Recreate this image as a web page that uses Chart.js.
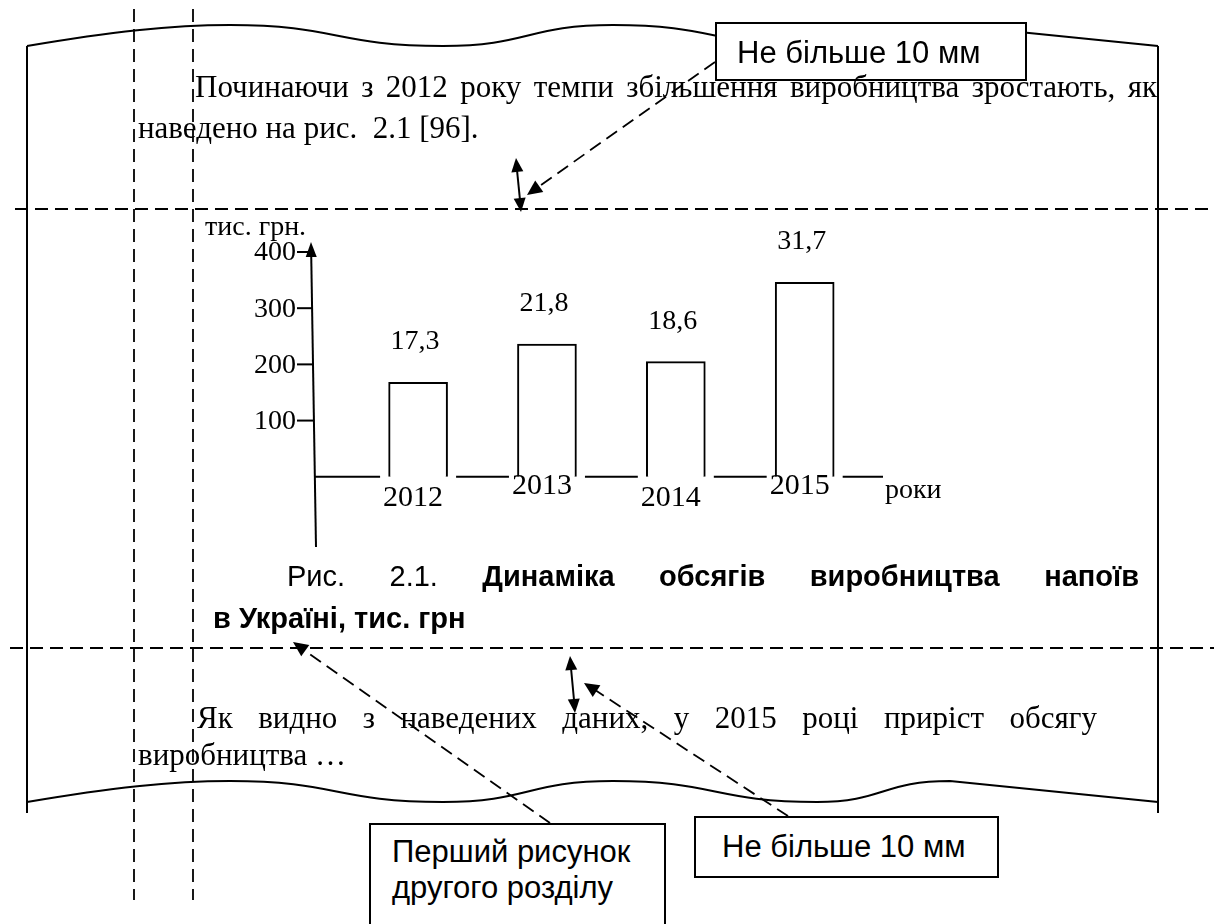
<!DOCTYPE html>
<html lang="uk">
<head>
<meta charset="utf-8">
<title>Динаміка обсягів виробництва напоїв</title>
<script src="https://cdn.jsdelivr.net/npm/chart.js@4.4.1/dist/chart.umd.min.js"></script>
<style>
  body { margin: 0; background: #fff; }
  #page { position: relative; width: 1214px; height: 924px; overflow: hidden; background: #fff; }
  #page canvas { position: absolute; left: 0; top: 0; }
  .txt { position: absolute; white-space: pre; color: #000; z-index: 2; }
  .serif { font-family: 'Liberation Serif', 'Times New Roman', serif; font-size: 31px; line-height: 31px; }
  .sans { font-family: 'Liberation Sans', Arial, sans-serif; font-size: 29px; line-height: 29px; }
  .label { font-family: 'Liberation Sans', Arial, sans-serif; font-size: 31px; line-height: 31px; }
  .box { position: absolute; border: 2px solid #000; background: #fff; box-sizing: border-box; z-index: 1; }
</style>
</head>
<body>
<div id="page">
  <canvas id="chart" width="1214" height="924"></canvas>

  <div class="txt serif" data-w="962" style="left:195px; top:71px;">Починаючи з 2012 року темпи збільшення виробництва зростають, як</div>
  <div class="txt serif" style="left:138px; top:112px;">наведено на рис.  2.1 [96].</div>

  <div class="txt sans" data-w="852" style="left:287px; top:562px;">Рис. 2.1. <b>Динаміка обсягів виробництва напоїв</b></div>
  <div class="txt sans" style="left:213px; top:604px;"><b>в Україні, тис. грн</b></div>

  <div class="txt serif" data-w="900" style="left:197px; top:702px;">Як видно з наведених даних, у 2015 році приріст обсягу</div>
  <div class="txt serif" style="left:138px; top:739px;">виробництва …</div>

  <div class="box" style="left:715px; top:22px; width:312px; height:59px;"></div>
  <div class="txt label" style="left:737px; top:37px;">Не більше 10 мм</div>

  <div class="box" style="left:694px; top:816px; width:305px; height:62px;"></div>
  <div class="txt label" style="left:722px; top:831px;">Не більше 10 мм</div>

  <div class="box" style="left:369px; top:823px; width:297px; height:120px;"></div>
  <div class="txt label" style="left:392px; top:836px;">Перший рисунок</div>
  <div class="txt label" style="left:392px; top:872px;">другого розділу</div>
</div>

<script>
// data
const years = [2012, 2013, 2014, 2015];
const values = [168, 236, 205, 346];
const valueLabels = ['17,3', '21,8', '18,6', '31,7'];
const yTicks = [100, 200, 300, 400];
const yUnit = 'тис. грн.';
const xUnit = 'роки';

const serif = "'Liberation Serif', 'Times New Roman', serif";

function line(ctx, x1, y1, x2, y2) {
    ctx.beginPath();
    ctx.moveTo(x1, y1);
    ctx.lineTo(x2, y2);
    ctx.stroke();
}

function arrowHead(ctx, fromX, fromY, tipX, tipY, len, half) {
    const a = Math.atan2(tipY - fromY, tipX - fromX);
    ctx.beginPath();
    ctx.moveTo(tipX, tipY);
    ctx.lineTo(tipX - len * Math.cos(a) + half * Math.sin(a), tipY - len * Math.sin(a) - half * Math.cos(a));
    ctx.lineTo(tipX - len * Math.cos(a) - half * Math.sin(a), tipY - len * Math.sin(a) + half * Math.cos(a));
    ctx.closePath();
    ctx.fill();
}

// wavy torn edge of the page, dy shifts it up for the top edge
function pageEdge(ctx, dy) {
    ctx.beginPath();
    ctx.moveTo(27, 802 + dy);
    ctx.bezierCurveTo(110, 788 + dy, 170, 781 + dy, 230, 781 + dy);
    ctx.bezierCurveTo(337, 781 + dy, 336, 802 + dy, 443, 802 + dy);
    ctx.bezierCurveTo(528, 802 + dy, 528, 781 + dy, 613, 781 + dy);
    ctx.bezierCurveTo(715, 781 + dy, 715, 802 + dy, 817, 802 + dy);
    ctx.bezierCurveTo(883, 802 + dy, 883, 781 + dy, 950, 781 + dy);
    ctx.lineTo(1158, 802 + dy);
    ctx.stroke();
}

const pagePlugin = {
    id: 'pageLayout',
    beforeDraw(chart) {
        const ctx = chart.ctx;
        ctx.save();
        ctx.fillStyle = '#fff';
        ctx.fillRect(0, 0, chart.width, chart.height);
        ctx.strokeStyle = '#000';
        ctx.fillStyle = '#000';
        ctx.lineWidth = 2;

        // page sheet
        pageEdge(ctx, 0);
        pageEdge(ctx, -756);
        line(ctx, 27, 46, 27, 813);
        line(ctx, 1158, 46, 1158, 813);

        // margin guides
        ctx.lineWidth = 1.8;
        ctx.setLineDash([13, 7]);
        line(ctx, 134, 9, 134, 900);
        line(ctx, 193, 9, 193, 900);
        line(ctx, 15, 209, 1214, 209);
        line(ctx, 10, 648, 1214, 648);

        // dashed pointers from the note boxes
        line(ctx, 715, 62, 534, 190);
        line(ctx, 788, 816, 592, 688);
        line(ctx, 550, 823, 301, 648);
        ctx.setLineDash([]);
        arrowHead(ctx, 715, 62, 527, 195, 15, 7);
        arrowHead(ctx, 788, 816, 584, 683, 15, 7);
        arrowHead(ctx, 550, 823, 293, 642, 15, 7);

        // spacing arrows (max 10 mm)
        ctx.lineWidth = 2;
        line(ctx, 517, 170, 520, 200);
        arrowHead(ctx, 520, 200, 516, 158, 14, 6);
        arrowHead(ctx, 517, 170, 521, 212, 14, 6);
        line(ctx, 571, 668, 574, 700);
        arrowHead(ctx, 574, 700, 570, 656, 14, 6);
        arrowHead(ctx, 571, 668, 575, 713, 14, 6);

        // x axis with gaps under the year labels
        const x = chart.scales.x;
        const y = chart.scales.y;
        const y0 = y.getPixelForValue(0);
        let start = chart.chartArea.left;
        years.forEach(yr => {
            const cx = x.getPixelForValue(yr);
            line(ctx, start, y0, cx - 38, y0);
            start = cx + 38;
        });
        line(ctx, start, y0, chart.chartArea.right + 1, y0);
        ctx.restore();
    },
    afterDatasetsDraw(chart) {
        const ctx = chart.ctx;
        const area = chart.chartArea;
        const x = chart.scales.x;
        const y = chart.scales.y;
        const y0 = y.getPixelForValue(0);
        ctx.save();
        ctx.strokeStyle = '#000';
        ctx.fillStyle = '#000';
        ctx.lineWidth = 2;

        // y axis, slightly leaning, with an arrow on top
        const topX = area.left - 4, topY = area.top - 10;
        const botX = area.left + 1, botY = area.bottom;
        const axisX = py => botX + (topX - botX) * (botY - py) / (botY - topY);
        line(ctx, botX, botY, axisX(area.top + 4), area.top + 4);
        arrowHead(ctx, botX, botY, topX, topY, 15, 5.5);

        ctx.font = '28px ' + serif;
        ctx.textAlign = 'right';
        ctx.textBaseline = 'middle';
        yTicks.forEach(v => {
            const py = y.getPixelForValue(v);
            line(ctx, area.left - 18, py, axisX(py), py);
            ctx.fillText(String(v), area.left - 19, py + 1);
        });

        ctx.textAlign = 'left';
        ctx.textBaseline = 'alphabetic';
        ctx.fillText(yUnit, area.left - 110, area.top - 17);
        ctx.fillText(xUnit, area.right + 3, y0 + 21);

        ctx.textAlign = 'center';
        years.forEach((yr, i) => {
            const cx = x.getPixelForValue(yr);
            ctx.font = '28px ' + serif;
            ctx.fillText(valueLabels[i], cx - 3, y.getPixelForValue(values[i]) - 33);
            ctx.font = '30px ' + serif;
            ctx.fillText(String(yr), cx - 5, y0 + (i % 2 === 0 ? 29 : 17));
        });
        ctx.restore();
    }
};

// spread single justified lines to their measured width
function justifyLines() {
    document.querySelectorAll('[data-w]').forEach(el => {
        const target = Number(el.dataset.w);
        const natural = el.getBoundingClientRect().width;
        const gaps = (el.textContent.match(/ /g) || []).length;
        if (gaps > 0 && target > natural) {
            el.style.wordSpacing = ((target - natural) / gaps) + 'px';
        }
    });
}

document.addEventListener('DOMContentLoaded', () => {
    justifyLines();
    const ctx = document.getElementById('chart').getContext('2d');
    new Chart(ctx, {
        type: 'bar',
        data: {
            datasets: [{
                data: years.map((yr, i) => ({ x: yr, y: values[i] })),
                backgroundColor: '#fff',
                borderColor: '#000',
                borderWidth: 2,
                borderSkipped: 'bottom',
                barThickness: 59
            }]
        },
        options: {
            responsive: false,
            animation: false,
            devicePixelRatio: 1,
            layout: {
                padding: { left: 315, right: 332, top: 252, bottom: 377 }
            },
            scales: {
                x: { type: 'linear', min: 2011.2, max: 2015.6, offset: false, display: false },
                y: { min: -125, max: 400, display: false }
            },
            plugins: {
                legend: { display: false },
                tooltip: { enabled: false }
            }
        },
        plugins: [pagePlugin]
    });
});
</script>
</body>
</html>
